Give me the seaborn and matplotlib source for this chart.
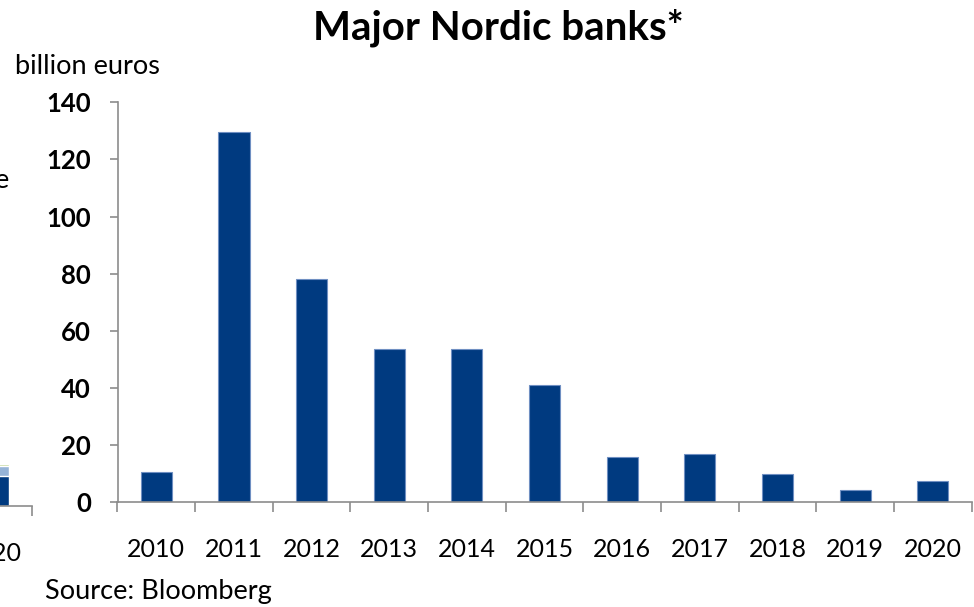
import matplotlib
matplotlib.use("Agg")
import matplotlib.pyplot as plt
import numpy as np
import pandas as pd
import seaborn as sns

# Outstanding amounts, billion euros
years = ["2010", "2011", "2012", "2013", "2014", "2015",
         "2016", "2017", "2018", "2019", "2020"]
values = [10.5, 129.5, 78.0, 53.6, 53.6, 41.1, 15.8, 16.8, 9.8, 4.3, 7.4]
y_ticks = [0, 20, 40, 60, 80, 100, 120, 140]

# Neighbouring panel on the slide (only its last column shows at the edge)
side_years = years
side_dark = [0] * 10 + [10.5]
side_light = [0] * 10 + [3.5]
side_green = [0] * 10 + [0.7]

BAR = "#003A80"
EDGE = "#6F8FC2"
AXIS = "#8C8C8C"
FONT = "Lato"

sns.set_theme(style="white")
plt.rcParams["font.family"] = [FONT, "DejaVu Sans"]
plt.rcParams["text.color"] = "black"
plt.rcParams["xtick.labelcolor"] = "black"
plt.rcParams["ytick.labelcolor"] = "black"

W, H = 974, 607
fig = plt.figure(figsize=(W / 100, H / 100), dpi=100)


def px_axes(x0, x1, ytop, ybot):
    return fig.add_axes([x0 / W, (H - ybot) / H, (x1 - x0) / W, (ybot - ytop) / H])


def style_axes(ax):
    for side in ("top", "right"):
        ax.spines[side].set_visible(False)
    for side in ("left", "bottom"):
        ax.spines[side].set_color(AXIS)
        ax.spines[side].set_linewidth(1.2)
    ax.set_xlim(-0.5, len(years) - 0.5)
    ax.set_ylim(0, 140)
    ax.set_xlabel("")
    ax.set_ylabel("")
    ax.set_xticks(np.arange(len(years) + 1) - 0.5, minor=True)
    ax.tick_params(axis="x", which="minor", length=7, width=1.2, color=AXIS,
                   direction="out", bottom=True)
    ax.tick_params(axis="x", which="major", length=0, pad=26, labelsize=18,
                   labelcolor="black")
    ax.tick_params(axis="y", which="major", length=6, width=1.2, color=AXIS,
                   direction="out", left=True, pad=13, labelsize=18.5,
                   labelcolor="black")
    ax.set_facecolor("none")


# Main panel
ax = px_axes(117.5, 971.7, 102.3, 502.3)
df = pd.DataFrame({"year": years, "value": values})
sns.barplot(data=df, x="year", y="value", color=BAR, width=0.4,
            edgecolor=EDGE, linewidth=0.8, saturation=1, ax=ax)
style_axes(ax)
ax.set_yticks(y_ticks)
ax.set_yticklabels([str(t) for t in y_ticks], fontweight="bold")

# Neighbouring panel, clipped by the left edge of the figure
ax2 = px_axes(32 - 854.2, 32, 102.3 + 3.4, 502.3 + 3.4)
sdf = pd.DataFrame({"year": side_years, "dark": side_dark,
                    "light": side_light, "green": side_green})
sdf["light_top"] = sdf["dark"] + sdf["light"]
sdf["green_top"] = sdf["light_top"] + sdf["green"]
sns.barplot(data=sdf, x="year", y="green_top", color="#C3D69B", width=0.4,
            saturation=1, ax=ax2)
sns.barplot(data=sdf, x="year", y="light_top", color="#95B3D7", width=0.4,
            saturation=1, ax=ax2)
sns.barplot(data=sdf, x="year", y="dark", color=BAR, width=0.4,
            saturation=1, ax=ax2)
style_axes(ax2)
ax2.spines["left"].set_visible(False)
ax2.set_yticks([])
ax2.set_xticks([len(side_years) - 1])
ax2.set_xticklabels([side_years[-1]])

fig.text(498 / W, 1 - 28 / H, "Major Nordic banks*", ha="center", va="center",
         fontsize=29, fontweight="bold")
fig.text(15 / W, 1 - 67 / H, "billion euros", ha="left", va="center",
         fontsize=19.5)
fig.text(45 / W, 1 - 592 / H, "Source: Bloomberg", ha="left", va="center",
         fontsize=19.5)
fig.text(-5 / W, 1 - 180 / H, "e", ha="left", va="center", fontsize=19.5)

fig.savefig("out.png", dpi=100)
